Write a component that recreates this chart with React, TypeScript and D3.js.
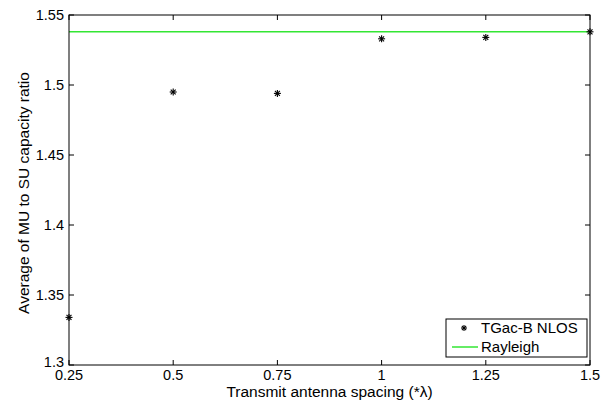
import React from "react";
import * as d3 from "d3";

const spacings = [0.25, 0.5, 0.75, 1, 1.25, 1.5];
const tgacValues = [1.334, 1.495, 1.494, 1.533, 1.534, 1.538];
const rayleighValue = 1.538;
const xTicks = [0.25, 0.5, 0.75, 1, 1.25, 1.5];
const yTicks = [1.3, 1.35, 1.4, 1.45, 1.5, 1.55];
const xLabels = ["0.25", "0.5", "0.75", "1", "1.25", "1.5"];
const yLabels = ["1.3", "1.35", "1.4", "1.45", "1.5", "1.55"];

const W = 616, H = 403;
const L = 69, R = 590, T = 15, B = 365;
const FONT = "Liberation Sans, Arial, sans-serif";
const GREEN = "#33e633";

function Star({ x, y, s = 3.5 }: { x: number; y: number; s?: number }) {
  const d = s * 0.707;
  return (
    <g stroke="#000" strokeWidth={1.1}>
      <line x1={x - s} y1={y} x2={x + s} y2={y} />
      <line x1={x} y1={y - s} x2={x} y2={y + s} />
      <line x1={x - d} y1={y - d} x2={x + d} y2={y + d} />
      <line x1={x - d} y1={y + d} x2={x + d} y2={y - d} />
    </g>
  );
}

export default function App() {
  const x = d3.scaleLinear().domain([0.25, 1.5]).range([L, R]);
  const y = d3.scaleLinear().domain([1.3, 1.55]).range([B, T]);
  const tk = 5;
  return (
    <svg width={W} height={H} style={{ position: "absolute", left: 0, top: 0, background: "#fff" }}>
      <rect x={0} y={0} width={W} height={H} fill="#fff" />
      <line x1={x(0.25)} x2={x(1.5)} y1={y(rayleighValue)} y2={y(rayleighValue)} stroke={GREEN} strokeWidth={1.5} />
      <rect x={L} y={T} width={R - L} height={B - T} fill="none" stroke="#000" strokeWidth={1} />
      {xTicks.map((v, i) => (
        <g key={"x" + i}>
          <line x1={x(v)} x2={x(v)} y1={B} y2={B - tk} stroke="#000" />
          <line x1={x(v)} x2={x(v)} y1={T} y2={T + tk} stroke="#000" />
          <text x={x(v)} y={B + 15} textAnchor="middle" fontFamily={FONT} fontSize={14.5} fill="#000">{xLabels[i]}</text>
        </g>
      ))}
      {yTicks.map((v, i) => (
        <g key={"y" + i}>
          <line x1={L} x2={L + tk} y1={y(v)} y2={y(v)} stroke="#000" />
          <line x1={R} x2={R - tk} y1={y(v)} y2={y(v)} stroke="#000" />
          <text x={L - 5} y={y(v) + (i === 0 ? 2 : 5)} textAnchor="end" fontFamily={FONT} fontSize={14.5} fill="#000">{yLabels[i]}</text>
        </g>
      ))}
      {spacings.map((s, i) => (
        <Star key={"p" + i} x={x(s)} y={y(tgacValues[i])} />
      ))}
      <text x={(L + R) / 2} y={397} textAnchor="middle" fontFamily={FONT} fontSize={15.5} fill="#000">Transmit antenna spacing (*λ)</text>
      <text transform={`translate(29,${(T + B) / 2 + 3}) rotate(-90)`} textAnchor="middle" fontFamily={FONT} fontSize={15.5} fill="#000">Average of MU to SU capacity ratio</text>
      <g>
        <rect x={446} y={319} width={141} height={38} fill="#fff" stroke="#000" strokeWidth={1} />
        <Star x={464} y={328} s={3} />
        <text x={481} y={333} fontFamily={FONT} fontSize={15} fill="#000">TGac-B NLOS</text>
        <line x1={452} x2={478} y1={347} y2={347} stroke={GREEN} strokeWidth={1.5} />
        <text x={481} y={352} fontFamily={FONT} fontSize={15} fill="#000">Rayleigh</text>
      </g>
    </svg>
  );
}
